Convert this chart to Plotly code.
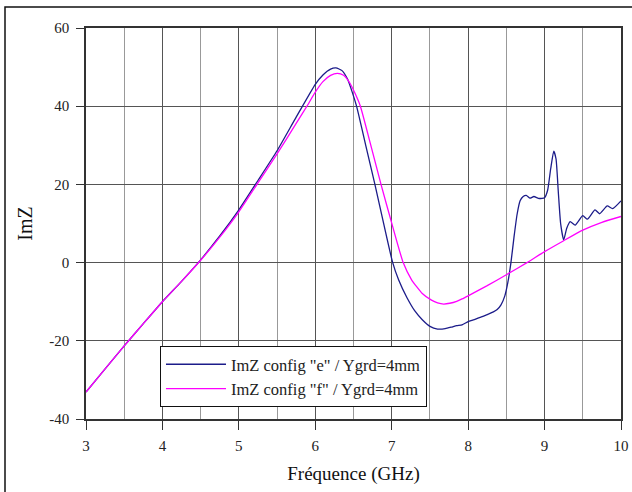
import plotly.graph_objects as go

freq_e = [3.0, 3.25, 3.5, 3.75, 4.0, 4.25, 4.5, 4.75, 5.0, 5.25, 5.5, 5.75, 6.0, 6.1, 6.2, 6.27,
          6.35, 6.42, 6.48, 6.54, 6.66, 6.78, 6.9, 7.01, 7.09, 7.2, 7.3, 7.4, 7.5, 7.6, 7.7, 7.78,
          7.85, 7.92, 8.0, 8.08, 8.16, 8.25, 8.33, 8.38, 8.43, 8.48, 8.52, 8.56, 8.6, 8.64, 8.68,
          8.72, 8.76, 8.81, 8.86, 8.93, 9.0, 9.04, 9.08, 9.12, 9.15, 9.18, 9.21, 9.25, 9.29, 9.335,
          9.4, 9.5, 9.56, 9.66, 9.72, 9.82, 9.89, 10.0]
imz_e = [-33.1, -27.2, -21.3, -15.6, -10.0, -4.8, 0.7, 6.8, 13.5, 21.0, 28.6, 37.2, 45.6, 48.0, 49.5, 49.8,
         49.1, 47.0, 43.8, 40.0, 30.0, 20.0, 9.5, 0.2, -4.4, -9.0, -12.3, -14.6, -16.3, -17.0, -16.9, -16.5,
         -16.1, -15.9, -15.1, -14.6, -14.0, -13.3, -12.6, -12.0, -10.8, -8.5, -5.0, 0.0, 6.5, 12.3, 15.8,
         16.9, 17.2, 16.5, 16.9, 16.4, 16.6, 18.5, 24.0, 28.5, 26.5, 18.0, 10.0, 5.8, 8.8, 10.5,
         9.6, 12.0, 11.1, 13.5, 12.5, 14.5, 13.8, 15.8]

freq_f = [3.0, 3.25, 3.5, 3.75, 4.0, 4.25, 4.5, 4.75, 5.0, 5.25, 5.5, 5.75, 5.9, 6.0, 6.1, 6.2,
          6.29, 6.37, 6.45, 6.52, 6.59, 6.72, 6.86, 7.0, 7.15, 7.26, 7.4, 7.52, 7.6, 7.68, 7.76, 7.85,
          7.92, 8.0, 8.25, 8.5, 8.77, 9.0, 9.25, 9.5, 9.75, 10.0]
imz_f = [-33.1, -27.2, -21.3, -15.6, -10.0, -4.8, 0.6, 6.5, 13.0, 20.4, 27.8, 35.6, 40.3, 43.6, 46.3, 47.9,
         48.4, 47.9, 46.0, 43.3, 40.0, 30.5, 20.0, 10.1, 0.0, -4.4, -7.9, -9.6, -10.3, -10.6, -10.4, -9.9,
         -9.3, -8.5, -5.9, -3.1, 0.0, 2.8, 5.6, 8.3, 10.3, 11.8]

x_ticks = [3, 4, 5, 6, 7, 8, 9, 10]
y_ticks = [-40, -20, 0, 20, 40, 60]
y_ticktext = ["-40", "-20", "0", "20", "40", "60"]

name_e = 'ImZ config "e" / Ygrd=4mm'
name_f = 'ImZ config "f" / Ygrd=4mm'

SERIF = "Liberation Serif, Times New Roman, serif"

fig = go.Figure()
fig.add_trace(go.Scatter(x=freq_e, y=imz_e, mode="lines", name=name_e,
                         line=dict(color="#1c1c8a", width=1.3, shape="spline", smoothing=0.5)))
fig.add_trace(go.Scatter(x=freq_f, y=imz_f, mode="lines", name=name_f,
                         line=dict(color="#ff00ff", width=1.3, shape="spline", smoothing=0.5)))

fig.update_layout(
    width=632, height=492,
    margin=dict(l=86, r=11, t=28, b=73, autoexpand=False),
    paper_bgcolor="white", plot_bgcolor="white",
    font=dict(family=SERIF, size=15, color="#222"),
    showlegend=True,
    legend=dict(x=0.1383, y=0.1867, xanchor="left", yanchor="top",
                bgcolor="white", bordercolor="#111", borderwidth=1,
                font=dict(family=SERIF, size=16.5, color="#222"),
                itemwidth=60, tracegroupgap=0),
    xaxis=dict(range=[3, 10], tickvals=x_ticks, ticks="outside", ticklen=9, tickwidth=1.3,
               tickcolor="#333", showline=True, linecolor="#333", linewidth=1.5, mirror=True,
               showgrid=True, gridcolor="#555", gridwidth=1.2, zeroline=False, automargin=False,
               minor=dict(dtick=0.5, showgrid=True, gridcolor="#999", gridwidth=1),
               tickfont=dict(family=SERIF, size=15, color="#222"), ticklabelstandoff=3,
               title=dict(text="Fréquence (GHz)", font=dict(family=SERIF, size=19, color="#111"),
                          standoff=14)),
    yaxis=dict(range=[-40, 60], tickvals=y_ticks, ticktext=y_ticktext, ticks="outside", ticklen=8,
               tickwidth=1.3, tickcolor="#333", showline=True, linecolor="#333", linewidth=1.5,
               mirror=True, showgrid=True, gridcolor="#555", gridwidth=1.2, zeroline=False,
               automargin=False,
               tickfont=dict(family=SERIF, size=15, color="#222"), ticklabelstandoff=4,
               title=dict(text="ImZ", font=dict(family=SERIF, size=20, color="#111"), standoff=11)),
    shapes=[dict(type="rect", xref="paper", yref="paper", x0=-0.1514, x1=1.2, y0=-0.4, y1=1.0537,
                 line=dict(color="#111", width=1.5), fillcolor="rgba(0,0,0,0)", layer="above")],
)

fig.write_html("out.html", config={"displayModeBar": False},
               post_script="document.body.style.margin='0';")
